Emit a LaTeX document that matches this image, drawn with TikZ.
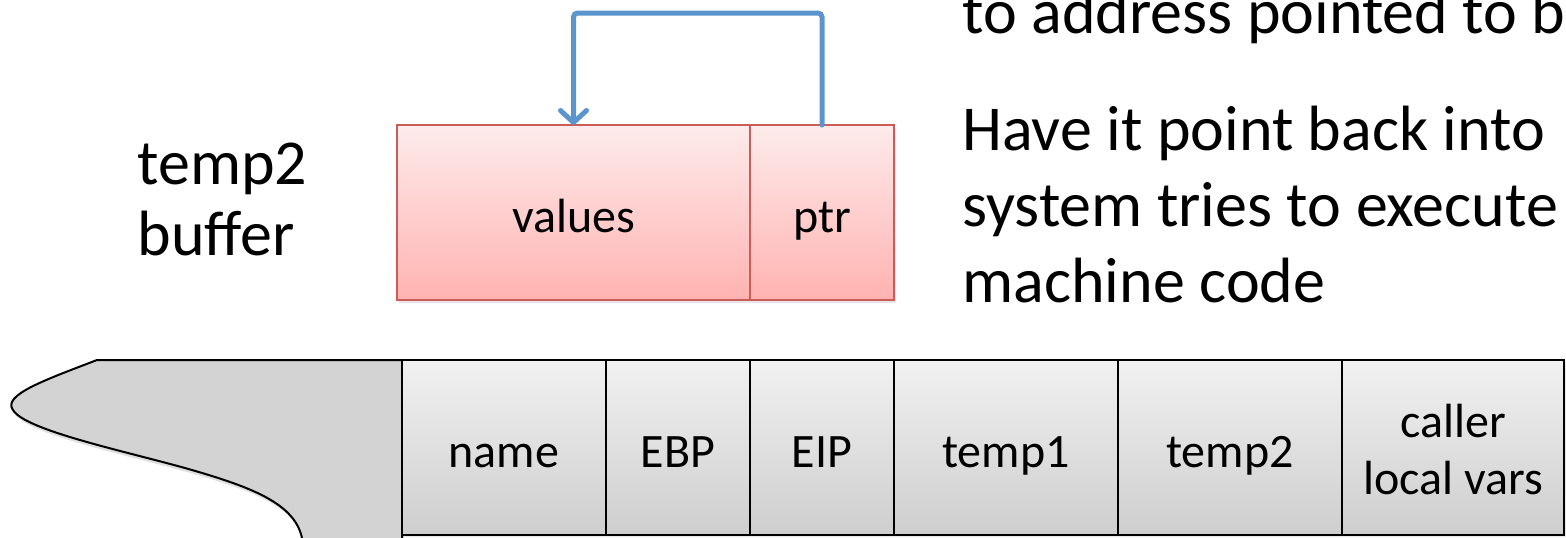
\documentclass[tikz,border=0pt]{standalone}
\usepackage{fontspec}
\setmainfont{Carlito}
\usetikzlibrary{positioning,arrows.meta,shadows}
\definecolor{celltop}{HTML}{F1F1F1}
\definecolor{cellbottom}{HTML}{CECECE}
\definecolor{stackgray}{HTML}{D3D3D3}
\definecolor{buftop}{HTML}{FDEBEB}
\definecolor{bufbottom}{HTML}{FFB3B1}
\definecolor{bufborder}{HTML}{CD5C57}
\definecolor{ptrblue}{HTML}{5B95CB}

\begin{document}
\begin{tikzpicture}[x=0.5pt,y=-0.5pt,
    cell/.style={
% The shape:
rectangle,
% The size:
minimum height=87.5pt,
outer sep=0pt,
% The border:
line width=1pt, draw,
% The filling:
top color=celltop, bottom color=cellbottom,
drop shadow={opacity=0.2,shadow xshift=1pt,shadow yshift=-1pt},
% The text:
font=\fontsize{24}{28.5}\selectfont, align=center,
text height=21pt, text depth=1pt,
},
    bufbox/.style={
% The shape:
rectangle,
% The size:
minimum height=87.5pt,
outer sep=0pt,
% The border:
line width=0.8pt, draw=bufborder,
% The filling:
top color=buftop, bottom color=bufbottom,
drop shadow={opacity=0.2,shadow xshift=1pt,shadow yshift=-1.5pt},
% The text:
font=\fontsize{24}{28.5}\selectfont,
text height=21pt, text depth=1pt,
},
    note/.style={
% The text:
anchor=base west, inner sep=0pt,
font=\fontsize{32}{38}\selectfont,
},
    backarrow/.style={
line width=2.5pt, draw=ptrblue, rounded corners=2pt, line cap=round,
-{Straight Barb[length=6pt,width=13pt,line cap=round,line join=round]},
},
]
  \useasboundingbox (0,0) rectangle (1566,537);
  \clip (0,0) rectangle (1566,537);

  % stack beyond the frame
  \draw[line width=1pt, fill=stackgray,
        drop shadow={opacity=0.25,shadow xshift=1pt,shadow yshift=-2pt}]
    (97,360) .. controls (45,380) and (2,395) .. (13,410)
    .. controls (25,430) and (120,450) .. (185,468)
    .. controls (255,488) and (300,505) .. (303,545)
    -- (402,545) -- (402,360) -- cycle;

  \node[cell,minimum width=102pt]                 (name) at (504,447.5) {name};
  \node[cell,minimum width=72pt,right=0pt of name] (ebp) {EBP};
  \node[cell,minimum width=72pt,right=0pt of ebp]  (eip) {EIP};
  \node[cell,minimum width=112pt,right=0pt of eip] (temp1) {temp1};
  \node[cell,minimum width=112pt,right=0pt of temp1] (temp2) {temp2};
  \node[cell,minimum width=111pt,right=0pt of temp2,
        text height=47pt, text depth=0pt] (caller) {caller\\local vars};

  \node[bufbox,minimum width=176.5pt]               (values) at (573.5,212.5) {values};
  \node[bufbox,minimum width=72pt,right=0pt of values] (ptr) {ptr};

  \node[note] (bufname) at (137,184) {temp2};
  \node[note] (bufword) at (137,255) {buffer};

  \node[note] (jump)    at (962,33)  {to address pointed to b};
  \node[note] (have)    at (962,150) {Have it point back into};
  \node[note] (system)  at (962,226) {system tries to execute};
  \node[note] (machine) at (962,302) {machine code};

  \draw[backarrow] (ptr.north) -- ++(0,-112) -| (values.north);

\end{tikzpicture}
\end{document}
